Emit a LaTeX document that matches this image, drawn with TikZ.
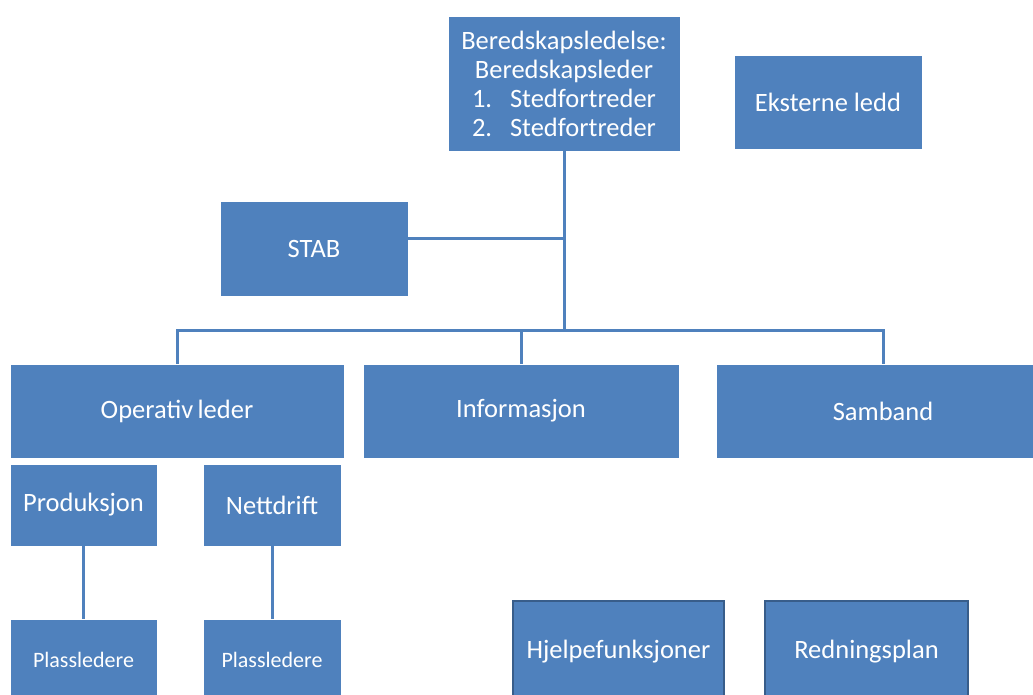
\documentclass[tikz,border=0pt]{standalone}
\usepackage{fontspec}
\setmainfont{Carlito}
\definecolor{boxblue}{HTML}{4F81BD}
\definecolor{boxedge}{HTML}{385D8A}
\tikzset{
  orgbox/.style={fill=boxblue, draw=white, line width=0.6pt, text=white, inner sep=0pt,
    align=center, font=\fontsize{26.5}{29}\selectfont},
  framedbox/.style={orgbox, draw=boxedge, line width=2pt},
  smallbox/.style={orgbox, font=\fontsize{22}{26}\selectfont},
  link/.style={draw=boxblue, line width=3pt}
}
\begin{document}
\begin{tikzpicture}[x=1pt,y=-1pt]
\useasboundingbox (0,0) rectangle (1033,695);
% top management box
\node[orgbox, minimum width=232pt, minimum height=135pt] (top) at (564,83.5)
  {Beredskapsledelse:\\Beredskapsleder\\\makebox[38pt][l]{1.}Stedfortreder\\\makebox[38pt][l]{2.}Stedfortreder};
\node[orgbox, minimum width=188pt, minimum height=94pt] (ext) at (828,102) {Eksterne ledd};
\node[orgbox, minimum width=188pt, minimum height=95pt] (stab) at (314,248.5) {STAB};
% second level
\node[orgbox, minimum width=334pt, minimum height=94pt] (oper) at (177,411) {Operativ\,leder};
\node[orgbox, minimum width=316pt, minimum height=94pt] (info) at (521,411) {Informasjon};
\node[orgbox, minimum width=334pt, minimum height=94pt] (samb) at (883,411) {Samband};
% operative units
\node[orgbox, minimum width=147pt, minimum height=82pt] (prod) at (83.5,505) {Produksjon};
\node[orgbox, minimum width=138pt, minimum height=82pt] (nett) at (272,505) {Nettdrift};
\node[smallbox, minimum width=147pt, minimum height=82pt] (plass1) at (83.5,660) {Plassledere};
\node[smallbox, minimum width=138pt, minimum height=82pt] (plass2) at (272,660) {Plassledere};
% support boxes
\node[framedbox, minimum width=211pt, minimum height=102pt] (hjelp) at (618.5,652) {Hjelpefunksjoner};
\node[framedbox, minimum width=203pt, minimum height=102pt] (redn) at (866.5,652) {Redningsplan};
% connectors
\coordinate (junc) at (top.south |- 0,330);
\draw[link] (top.south) -- (junc);
\draw[link] ([yshift=10.5pt]stab.east) -- ([yshift=10.5pt]stab.east -| top.south);
\draw[link] (oper.north) |- (junc) -| (samb.north);
\draw[link] (info.north) -- (info.north |- junc);
\draw[link] (prod.south) -- (plass1.north);
\draw[link] (nett.south) -- (plass2.north);
\end{tikzpicture}
\end{document}
